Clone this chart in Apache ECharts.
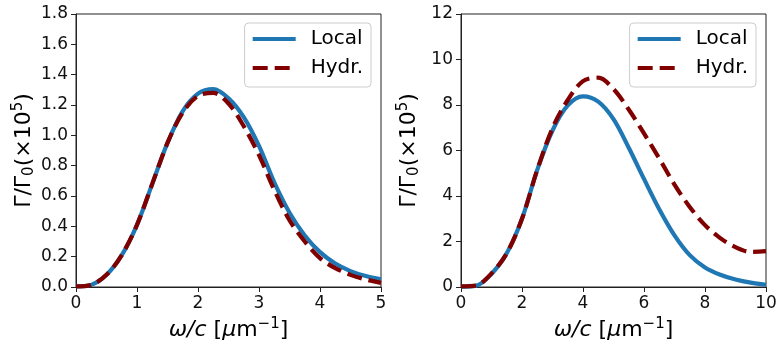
<!DOCTYPE html>
<html>
<head>
<meta charset="utf-8">
<script src="https://cdn.jsdelivr.net/npm/echarts@6/dist/echarts.min.js"></script>
<style>
  html, body { margin: 0; padding: 0; background: #fff; }
  #chart { width: 784px; height: 352px; }
</style>
</head>
<body>
<div id="chart"></div>
<script>
// left panel, omega/c from 0 to 5
var leftX = [0, 0.25, 0.5, 0.75, 1, 1.25, 1.5, 1.75, 2, 2.25, 2.5, 2.75, 3, 3.25, 3.5, 3.75, 4, 4.25, 4.5, 4.75, 5]
var localLeft = [0.004, 0.014, 0.08, 0.21, 0.41, 0.68, 0.95, 1.16, 1.275, 1.305, 1.245, 1.12, 0.93, 0.69, 0.49, 0.34, 0.23, 0.155, 0.105, 0.072, 0.05]
var hydrLeft = [0.004, 0.014, 0.08, 0.21, 0.41, 0.68, 0.95, 1.15, 1.26, 1.28, 1.21, 1.06, 0.87, 0.64, 0.44, 0.30, 0.19, 0.125, 0.08, 0.05, 0.027]

// right panel, omega/c from 0 to 10
var rightX = [0, 0.5, 1, 1.5, 2, 2.5, 3, 3.5, 4, 4.5, 5, 5.5, 6, 6.5, 7, 7.5, 8, 8.5, 9, 9.5, 10]
var localRight = [0.02, 0.06, 0.57, 1.48, 3.0, 5.15, 6.88, 7.98, 8.38, 8.15, 7.38, 6.12, 4.75, 3.42, 2.27, 1.4, 0.86, 0.54, 0.33, 0.19, 0.10]
var hydrRight = [0.03, 0.07, 0.6, 1.48, 3.0, 5.15, 6.98, 8.22, 9.05, 9.2, 8.7, 7.8, 6.75, 5.65, 4.5, 3.52, 2.72, 2.15, 1.75, 1.54, 1.58]

var seriesNames = ['Local', 'Hydr.']

var FONT = 'DejaVu Sans'
var BLUE = '#1f77b4'
var RED = '#800000'

function pairs(xs, ys) {
  return xs.map(function (x, i) { return [x, ys[i]] })
}

var nameRich = {
  n: { fontSize: 22, fontFamily: FONT, color: '#000', lineHeight: 26 },
  i: { fontSize: 22, fontFamily: FONT, color: '#000', fontStyle: 'italic', lineHeight: 26 },
  sup: { fontSize: 15, fontFamily: FONT, color: '#000', verticalAlign: 'top', lineHeight: 26 },
  sub: { fontSize: 15, fontFamily: FONT, color: '#000', verticalAlign: 'bottom', lineHeight: 26 }
}
var xName = '{i|ω/c}{n| [}{i|μ}{n|m}{sup|−1}{n|]}'
var yName = '{n|Γ/Γ}{sub|0}{n|(×10}{sup|5}{n|)}'

function xAxis(idx, max, interval) {
  return {
    type: 'value', gridIndex: idx, min: 0, max: max, interval: interval,
    name: xName, nameLocation: 'middle', nameGap: 29,
    nameTextStyle: { rich: nameRich },
    axisLine: { show: true, onZero: false, lineStyle: { color: '#222', width: 1 } },
    axisTick: { show: true, length: 5, lineStyle: { color: '#222' } },
    axisLabel: { color: '#111', fontSize: 17, fontFamily: FONT, margin: 8 },
    splitLine: { show: false }
  }
}

function yAxis(idx, max, interval, decimals) {
  return {
    type: 'value', gridIndex: idx, min: 0, max: max, interval: interval,
    name: yName, nameLocation: 'middle', nameGap: 39,
    nameTextStyle: { rich: nameRich },
    axisLine: { show: true, lineStyle: { color: '#222', width: 1 } },
    axisTick: { show: true, length: 5, lineStyle: { color: '#222' } },
    axisLabel: {
      color: '#111', fontSize: 17, fontFamily: FONT, margin: 8,
      formatter: function (v) { return v.toFixed(decimals) }
    },
    splitLine: { show: false }
  }
}

function legend(right) {
  return {
    data: seriesNames,
    orient: 'vertical',
    right: right, top: 23,
    itemWidth: 43, itemHeight: 14, itemGap: 7,
    padding: [5, 8, 8, 6],
    borderColor: '#cccccc', borderWidth: 1, borderRadius: 4,
    backgroundColor: 'rgba(255,255,255,0.8)',
    itemStyle: { opacity: 0 },
    lineStyle: { width: 4.2 },
    textStyle: { fontSize: 20, fontFamily: FONT, color: '#000', lineHeight: 22, padding: [0, 0, 0, 10] }
  }
}

function line(name, idx, data, color, dashed) {
  return {
    name: name, type: 'line', xAxisIndex: idx, yAxisIndex: idx,
    data: data, smooth: 0.33, symbol: 'none', showSymbol: false,
    lineStyle: { color: color, width: 4.2, type: dashed ? [15, 7] : 'solid' },
    itemStyle: { color: color },
    z: dashed ? 3 : 2,
    animation: false
  }
}

var chart = echarts.init(document.getElementById('chart'))
chart.setOption({
  backgroundColor: '#fff',
  animation: false,
  grid: [
    { left: 76, top: 14, width: 305, height: 273, show: true, borderColor: '#222', borderWidth: 1 },
    { left: 461, top: 14, width: 305, height: 273, show: true, borderColor: '#222', borderWidth: 1 }
  ],
  legend: [legend(413), legend(28)],
  xAxis: [xAxis(0, 5, 1), xAxis(1, 10, 2)],
  yAxis: [yAxis(0, 1.8, 0.2, 1), yAxis(1, 12, 2, 0)],
  series: [
    line('Local', 0, pairs(leftX, localLeft), BLUE, false),
    line('Hydr.', 0, pairs(leftX, hydrLeft), RED, true),
    line('Local', 1, pairs(rightX, localRight), BLUE, false),
    line('Hydr.', 1, pairs(rightX, hydrRight), RED, true)
  ]
})
</script>
</body>
</html>
